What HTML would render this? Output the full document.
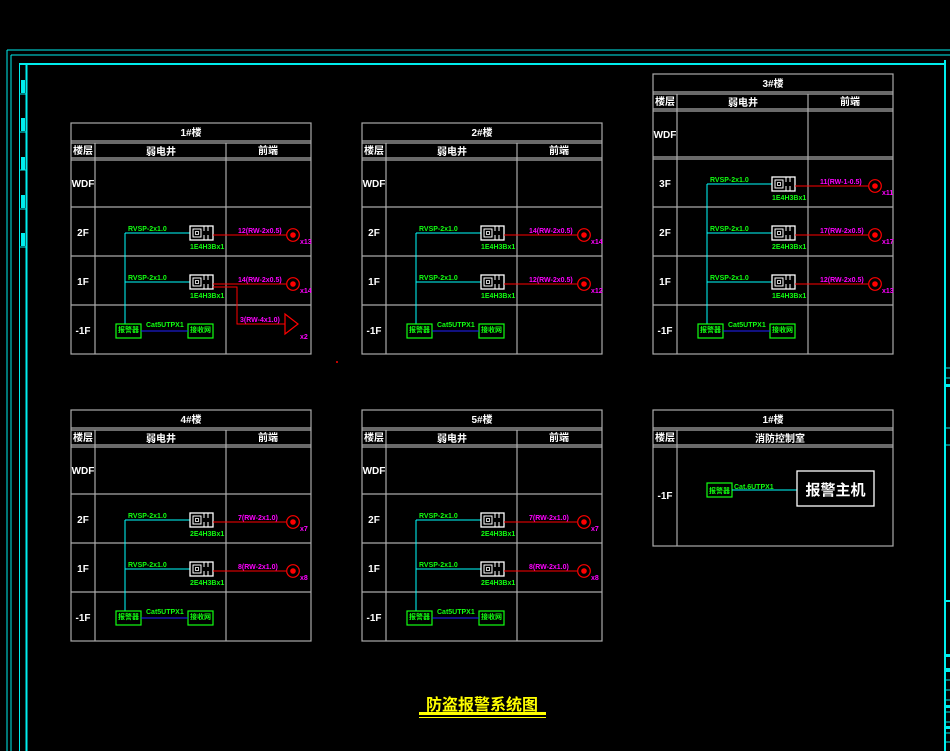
<!DOCTYPE html>
<html><head><meta charset="utf-8"><style>
html,body{margin:0;padding:0;background:#000;width:950px;height:751px;overflow:hidden}
svg{display:block}
text{font-family:"Liberation Sans","Noto Sans CJK SC",sans-serif;font-weight:bold}
.w{fill:#fff;font-size:10px}
.g{fill:#1f1;font-size:7px;font-weight:bold}
.m{fill:#f0f;font-size:7px;font-weight:bold}
</style></head><body>
<svg width="950" height="751" viewBox="0 0 950 751" xmlns="http://www.w3.org/2000/svg">
<defs>
<g id="frame" fill="none" stroke="#aaa" stroke-width="1.2">
<rect x="0" y="0" width="240" height="231"/>
<line x1="0" y1="18" x2="240" y2="18"/><line x1="0" y1="20" x2="240" y2="20"/>
<line x1="0" y1="35" x2="240" y2="35"/><line x1="0" y1="37" x2="240" y2="37"/>
<line x1="24" y1="20" x2="24" y2="231"/><line x1="155" y1="20" x2="155" y2="231"/>
<line x1="0" y1="84" x2="240" y2="84"/><line x1="0" y1="133" x2="240" y2="133"/><line x1="0" y1="182" x2="240" y2="182"/>
</g>
<g id="floor">
<line x1="54" y1="26" x2="119" y2="26" stroke="#0ff" stroke-width="1"/>
<rect x="119" y="19" width="23" height="14" fill="none" stroke="#fff" stroke-width="1.3"/>
<rect x="122" y="22" width="8" height="8" fill="none" stroke="#fff" stroke-width="1"/>
<rect x="124.5" y="24.5" width="3" height="3" fill="none" stroke="#fff" stroke-width="0.8"/>
<line x1="133" y1="19" x2="133" y2="24" stroke="#fff"/><line x1="137" y1="19" x2="137" y2="24" stroke="#fff"/>
<line x1="133" y1="28" x2="133" y2="33" stroke="#fff"/><line x1="137" y1="28" x2="137" y2="33" stroke="#fff"/>
<line x1="142" y1="28" x2="215" y2="28" stroke="#f00" stroke-width="1"/>
<circle cx="222" cy="28" r="6.3" fill="none" stroke="#f00" stroke-width="1.2"/>
<circle cx="222" cy="28" r="2.8" fill="#f00"/>
</g>
<g id="base">
<rect x="45" y="19" width="25" height="14" fill="none" stroke="#1f1" stroke-width="1.2"/>
<rect x="117" y="19" width="25" height="14" fill="none" stroke="#1f1" stroke-width="1.2"/>
<line x1="70" y1="26" x2="117" y2="26" stroke="#22f" stroke-width="1"/>
</g>
</defs>

<g stroke="#0ee" fill="none">
<line x1="7" y1="50" x2="950" y2="50"/><line x1="11" y1="55" x2="950" y2="55"/>
<line x1="7" y1="50" x2="7" y2="751"/><line x1="11" y1="55" x2="11" y2="751"/>
<line x1="19.5" y1="64" x2="19.5" y2="751"/>
<line x1="19" y1="64" x2="945" y2="64" stroke-width="2"/>
<line x1="26.5" y1="64" x2="26.5" y2="751" stroke-width="2"/>
<line x1="945" y1="60" x2="945" y2="751" stroke-width="2"/>
<line x1="19" y1="94" x2="26" y2="94"/><line x1="19" y1="132" x2="26" y2="132"/><line x1="19" y1="170" x2="26" y2="170"/><line x1="19" y1="209" x2="26" y2="209"/><line x1="19" y1="247" x2="26" y2="247"/>
<line x1="945" y1="368" x2="950" y2="368"/><line x1="945" y1="378" x2="950" y2="378"/><line x1="945" y1="428" x2="950" y2="428"/><line x1="945" y1="445" x2="950" y2="445"/>
<line x1="945" y1="680" x2="950" y2="680"/><line x1="945" y1="690" x2="950" y2="690"/><line x1="945" y1="700" x2="950" y2="700"/><line x1="945" y1="712" x2="950" y2="712"/><line x1="945" y1="722" x2="950" y2="722"/><line x1="945" y1="733" x2="950" y2="733"/><line x1="945" y1="742" x2="950" y2="742"/>
</g>
<g fill="#0ee">
<rect x="21" y="80" width="4" height="13"/><rect x="21" y="118" width="4" height="13"/><rect x="21" y="157" width="4" height="13"/><rect x="21" y="195" width="4" height="13"/><rect x="21" y="233" width="4" height="13"/>
<rect x="945" y="384" width="5" height="3"/><rect x="945" y="600" width="5" height="2"/>
<rect x="945" y="654" width="5" height="3"/><rect x="945" y="668" width="5" height="4"/><rect x="945" y="705" width="5" height="3"/><rect x="945" y="726" width="5" height="3"/>
</g>
<circle cx="337" cy="362" r="1" fill="#f00"/>

<g transform="translate(71,123)">
<use href="#frame"/>
<text class="w" x="120" y="13" text-anchor="middle">1#楼</text>
<text class="w" x="12" y="31" text-anchor="middle">楼层</text>
<text class="w" x="90" y="32" text-anchor="middle">弱电井</text>
<text class="w" x="197" y="31" text-anchor="middle">前端</text>
<text class="w" x="12" y="64" text-anchor="middle">WDF</text>
<text class="w" x="12" y="113" text-anchor="middle">2F</text>
<text class="w" x="12" y="162" text-anchor="middle">1F</text>
<text class="w" x="12" y="211" text-anchor="middle">-1F</text>
<line x1="54" y1="110" x2="54" y2="201" stroke="#0ff"/>
<use href="#floor" y="84"/><use href="#floor" y="133"/><use href="#base" y="182"/>
<text class="g" x="57" y="108">RVSP-2x1.0</text><text class="g" x="119" y="126">1E4H3Bx1</text>
<text class="m" x="167" y="110">12(RW-2x0.5)</text><text class="m" x="229" y="121">x13</text>
<text class="g" x="57" y="157">RVSP-2x1.0</text><text class="g" x="119" y="175">1E4H3Bx1</text>
<text class="m" x="167" y="159">14(RW-2x0.5)</text><text class="m" x="229" y="170">x14</text>
<polyline points="142,164 166,164 166,201 214,201" fill="none" stroke="#f00"/>
<polygon points="214,191 227,201 214,211" fill="none" stroke="#f00" stroke-width="1.2"/>
<text class="m" x="169" y="199">3(RW-4x1.0)</text><text class="m" x="229" y="216">x2</text>
<text class="g" x="75" y="204">Cat5UTPX1</text>
<text class="g" x="57.5" y="209" text-anchor="middle" font-size="6">报警器</text>
<text class="g" x="129.5" y="209" text-anchor="middle" font-size="6">接收网</text>
</g>

<g transform="translate(362,123)">
<use href="#frame"/>
<text class="w" x="120" y="13" text-anchor="middle">2#楼</text>
<text class="w" x="12" y="31" text-anchor="middle">楼层</text>
<text class="w" x="90" y="32" text-anchor="middle">弱电井</text>
<text class="w" x="197" y="31" text-anchor="middle">前端</text>
<text class="w" x="12" y="64" text-anchor="middle">WDF</text>
<text class="w" x="12" y="113" text-anchor="middle">2F</text>
<text class="w" x="12" y="162" text-anchor="middle">1F</text>
<text class="w" x="12" y="211" text-anchor="middle">-1F</text>
<line x1="54" y1="110" x2="54" y2="201" stroke="#0ff"/>
<use href="#floor" y="84"/><use href="#floor" y="133"/><use href="#base" y="182"/>
<text class="g" x="57" y="108">RVSP-2x1.0</text><text class="g" x="119" y="126">1E4H3Bx1</text>
<text class="m" x="167" y="110">14(RW-2x0.5)</text><text class="m" x="229" y="121">x14</text>
<text class="g" x="57" y="157">RVSP-2x1.0</text><text class="g" x="119" y="175">1E4H3Bx1</text>
<text class="m" x="167" y="159">12(RW-2x0.5)</text><text class="m" x="229" y="170">x12</text>
<text class="g" x="75" y="204">Cat5UTPX1</text>
<text class="g" x="57.5" y="209" text-anchor="middle" font-size="6">报警器</text>
<text class="g" x="129.5" y="209" text-anchor="middle" font-size="6">接收网</text>
</g>

<g transform="translate(653,74)">
<g fill="none" stroke="#aaa" stroke-width="1.2">
<rect x="0" y="0" width="240" height="280"/>
<line x1="0" y1="18" x2="240" y2="18"/><line x1="0" y1="20" x2="240" y2="20"/>
<line x1="0" y1="35" x2="240" y2="35"/><line x1="0" y1="37" x2="240" y2="37"/>
<line x1="24" y1="20" x2="24" y2="280"/><line x1="155" y1="20" x2="155" y2="280"/>
<line x1="0" y1="83" x2="240" y2="83"/><line x1="0" y1="85" x2="240" y2="85"/><line x1="0" y1="133" x2="240" y2="133"/><line x1="0" y1="182" x2="240" y2="182"/><line x1="0" y1="231" x2="240" y2="231"/>
</g>
<text class="w" x="120" y="13" text-anchor="middle">3#楼</text>
<text class="w" x="12" y="31" text-anchor="middle">楼层</text>
<text class="w" x="90" y="32" text-anchor="middle">弱电井</text>
<text class="w" x="197" y="31" text-anchor="middle">前端</text>
<text class="w" x="12" y="64" text-anchor="middle">WDF</text>
<text class="w" x="12" y="113" text-anchor="middle">3F</text>
<text class="w" x="12" y="162" text-anchor="middle">2F</text>
<text class="w" x="12" y="211" text-anchor="middle">1F</text>
<text class="w" x="12" y="260" text-anchor="middle">-1F</text>
<line x1="54" y1="110" x2="54" y2="250" stroke="#0ff"/>
<use href="#floor" y="84"/><use href="#floor" y="133"/><use href="#floor" y="182"/><use href="#base" y="231"/>
<text class="g" x="57" y="108">RVSP-2x1.0</text><text class="g" x="119" y="126">1E4H3Bx1</text>
<text class="m" x="167" y="110">11(RW-1-0.5)</text><text class="m" x="229" y="121">x11</text>
<text class="g" x="57" y="157">RVSP-2x1.0</text><text class="g" x="119" y="175">2E4H3Bx1</text>
<text class="m" x="167" y="159">17(RW-2x0.5)</text><text class="m" x="229" y="170">x17</text>
<text class="g" x="57" y="206">RVSP-2x1.0</text><text class="g" x="119" y="224">1E4H3Bx1</text>
<text class="m" x="167" y="208">12(RW-2x0.5)</text><text class="m" x="229" y="219">x13</text>
<text class="g" x="75" y="253">Cat5UTPX1</text>
<text class="g" x="57.5" y="258" text-anchor="middle" font-size="6">报警器</text>
<text class="g" x="129.5" y="258" text-anchor="middle" font-size="6">接收网</text>
</g>

<g transform="translate(71,410)">
<use href="#frame"/>
<text class="w" x="120" y="13" text-anchor="middle">4#楼</text>
<text class="w" x="12" y="31" text-anchor="middle">楼层</text>
<text class="w" x="90" y="32" text-anchor="middle">弱电井</text>
<text class="w" x="197" y="31" text-anchor="middle">前端</text>
<text class="w" x="12" y="64" text-anchor="middle">WDF</text>
<text class="w" x="12" y="113" text-anchor="middle">2F</text>
<text class="w" x="12" y="162" text-anchor="middle">1F</text>
<text class="w" x="12" y="211" text-anchor="middle">-1F</text>
<line x1="54" y1="110" x2="54" y2="201" stroke="#0ff"/>
<use href="#floor" y="84"/><use href="#floor" y="133"/><use href="#base" y="182"/>
<text class="g" x="57" y="108">RVSP-2x1.0</text><text class="g" x="119" y="126">2E4H3Bx1</text>
<text class="m" x="167" y="110">7(RW-2x1.0)</text><text class="m" x="229" y="121">x7</text>
<text class="g" x="57" y="157">RVSP-2x1.0</text><text class="g" x="119" y="175">2E4H3Bx1</text>
<text class="m" x="167" y="159">8(RW-2x1.0)</text><text class="m" x="229" y="170">x8</text>
<text class="g" x="75" y="204">Cat5UTPX1</text>
<text class="g" x="57.5" y="209" text-anchor="middle" font-size="6">报警器</text>
<text class="g" x="129.5" y="209" text-anchor="middle" font-size="6">接收网</text>
</g>

<g transform="translate(362,410)">
<use href="#frame"/>
<text class="w" x="120" y="13" text-anchor="middle">5#楼</text>
<text class="w" x="12" y="31" text-anchor="middle">楼层</text>
<text class="w" x="90" y="32" text-anchor="middle">弱电井</text>
<text class="w" x="197" y="31" text-anchor="middle">前端</text>
<text class="w" x="12" y="64" text-anchor="middle">WDF</text>
<text class="w" x="12" y="113" text-anchor="middle">2F</text>
<text class="w" x="12" y="162" text-anchor="middle">1F</text>
<text class="w" x="12" y="211" text-anchor="middle">-1F</text>
<line x1="54" y1="110" x2="54" y2="201" stroke="#0ff"/>
<use href="#floor" y="84"/><use href="#floor" y="133"/><use href="#base" y="182"/>
<text class="g" x="57" y="108">RVSP-2x1.0</text><text class="g" x="119" y="126">2E4H3Bx1</text>
<text class="m" x="167" y="110">7(RW-2x1.0)</text><text class="m" x="229" y="121">x7</text>
<text class="g" x="57" y="157">RVSP-2x1.0</text><text class="g" x="119" y="175">2E4H3Bx1</text>
<text class="m" x="167" y="159">8(RW-2x1.0)</text><text class="m" x="229" y="170">x8</text>
<text class="g" x="75" y="204">Cat5UTPX1</text>
<text class="g" x="57.5" y="209" text-anchor="middle" font-size="6">报警器</text>
<text class="g" x="129.5" y="209" text-anchor="middle" font-size="6">接收网</text>
</g>

<g transform="translate(653,410)">
<g fill="none" stroke="#aaa" stroke-width="1.2">
<rect x="0" y="0" width="240" height="136"/>
<line x1="0" y1="18" x2="240" y2="18"/><line x1="0" y1="20" x2="240" y2="20"/>
<line x1="0" y1="35" x2="240" y2="35"/><line x1="0" y1="37" x2="240" y2="37"/>
<line x1="24" y1="20" x2="24" y2="136"/>
</g>
<text class="w" x="120" y="13" text-anchor="middle">1#楼</text>
<text class="w" x="12" y="31" text-anchor="middle">楼层</text>
<text class="w" x="127" y="32" text-anchor="middle">消防控制室</text>
<text class="w" x="12" y="89" text-anchor="middle">-1F</text>
<rect x="54" y="73" width="25" height="14" fill="none" stroke="#1f1" stroke-width="1.2"/>
<text class="g" x="66.5" y="83" text-anchor="middle" font-size="6">报警器</text>
<line x1="79" y1="80" x2="144" y2="80" stroke="#0ff"/>
<text class="g" x="81" y="79">Cat.6UTPX1</text>
<rect x="144" y="61" width="77" height="35" fill="none" stroke="#fff" stroke-width="1.3"/>
<text x="182.5" y="85" text-anchor="middle" fill="#fff" font-size="15">报警主机</text>
</g>

<text x="482" y="710" text-anchor="middle" fill="#ff0" font-size="16">防盗报警系统图</text>
<rect x="419" y="712" width="127" height="3" fill="#ff0"/>
<rect x="419" y="717" width="127" height="1" fill="#ff0"/>
</svg>
</body></html>
